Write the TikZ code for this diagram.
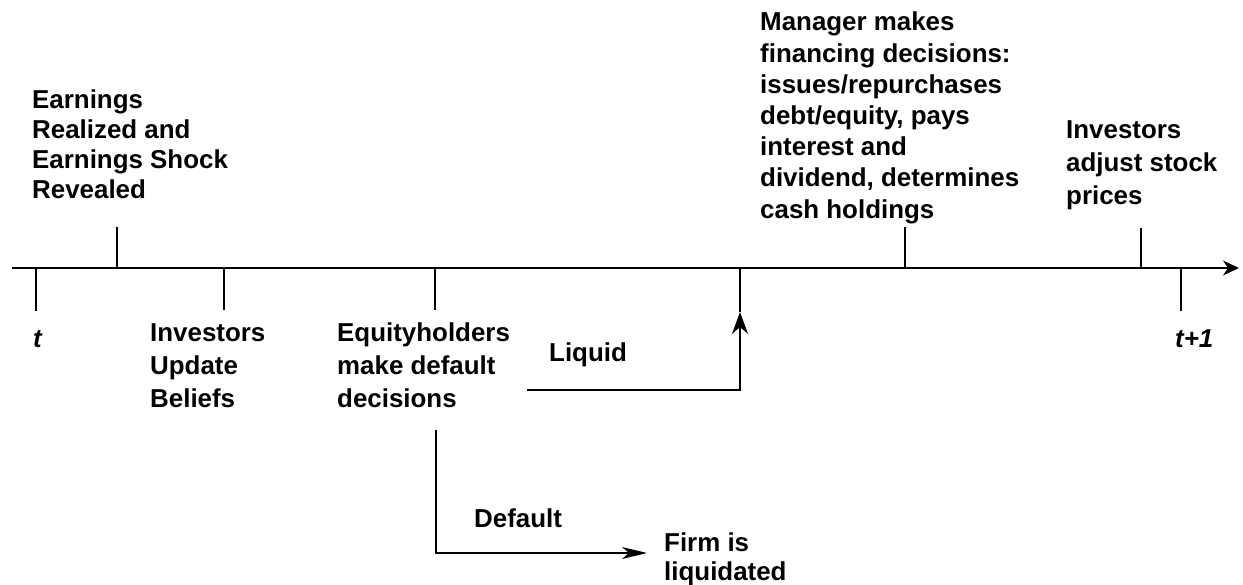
\documentclass[tikz,border=0pt]{standalone}
\usepackage{fontspec}
\setmainfont{Liberation Sans}
\usetikzlibrary{arrows.meta}
\begin{document}
\begin{tikzpicture}[x=1pt,y=1pt,
  lbl/.style={anchor=north west,inner sep=0pt,align=left,font=\fontsize{25.9}{#1}\selectfont\bfseries},
  lbl/.default=31,
  tm/.style={anchor=base west,inner sep=0pt,font=\fontsize{25.9}{31}\selectfont\bfseries\itshape},
  ln/.style={line width=1.4pt},
  tip/.style={-{Stealth[length=#1,width=15pt,inset=5pt]}},
]
\useasboundingbox (0,0) rectangle (1243,584);
% timeline
\coordinate (L0) at (12,316);
\coordinate (L1) at (1239,316);
\draw[ln,tip=16pt] (L0) -- (L1);
% ticks
\coordinate (t0a) at (36,316); \coordinate (t0b) at (36,273);
\coordinate (ea) at (117,316); \coordinate (eb) at (117,357);
\coordinate (ia) at (224,316); \coordinate (ib) at (224,274);
\coordinate (qa) at (435,316); \coordinate (qb) at (435,274);
\coordinate (ma) at (905,316); \coordinate (mb) at (905,357);
\coordinate (aa) at (1141,316); \coordinate (ab) at (1141,356);
\coordinate (t1a) at (1181,316); \coordinate (t1b) at (1181,273);
\foreach \a/\b in {t0a/t0b,ea/eb,ia/ib,qa/qb,ma/mb,aa/ab,t1a/t1b}
  \draw[ln] (\a) -- (\b);
% liquid path
\coordinate (lqs) at (527,194);
\coordinate (lqc) at (740,194);
\coordinate (lqm) at (740,272);
\coordinate (lqt) at (740,316);
\draw[ln,-{Stealth[length=22pt,width=16pt,inset=7pt]}] (lqs) -- (lqc) -- (lqm);
\draw[ln] (lqm) -- (lqt);
% default path
\coordinate (dfs) at (436,154);
\coordinate (dfc) at (436,31);
\coordinate (dfe) at (647,31);
\draw[ln,-{Stealth[length=25pt,width=12pt,inset=7pt]}] (dfs) -- (dfc) -- (dfe);
% labels
\node[lbl=30] (earn) at (32,494) {Earnings\\Realized and\\Earnings Shock\\Revealed};
\node[tm] (t) at (33,236) {t};
\node[lbl=33] (upd) at (150,261) {Investors\\Update\\Beliefs};
\node[lbl=33] (eq) at (337,261) {Equityholders\\make default\\decisions};
\node[lbl] (liq) at (549,241) {Liquid};
\node[lbl=31.2] (mgr) at (760,572) {Manager makes\\financing decisions:\\issues/repurchases\\debt/equity, pays\\interest and\\dividend, determines\\cash holdings};
\node[lbl=33] (adj) at (1066,464) {Investors\\adjust stock\\prices};
\node[tm] (t1) at (1175,236) {t+1};
\node[lbl] (def) at (474,75) {Default};
\node[lbl=29] (firm) at (664,51) {Firm is\\liquidated};
\end{tikzpicture}
\end{document}
